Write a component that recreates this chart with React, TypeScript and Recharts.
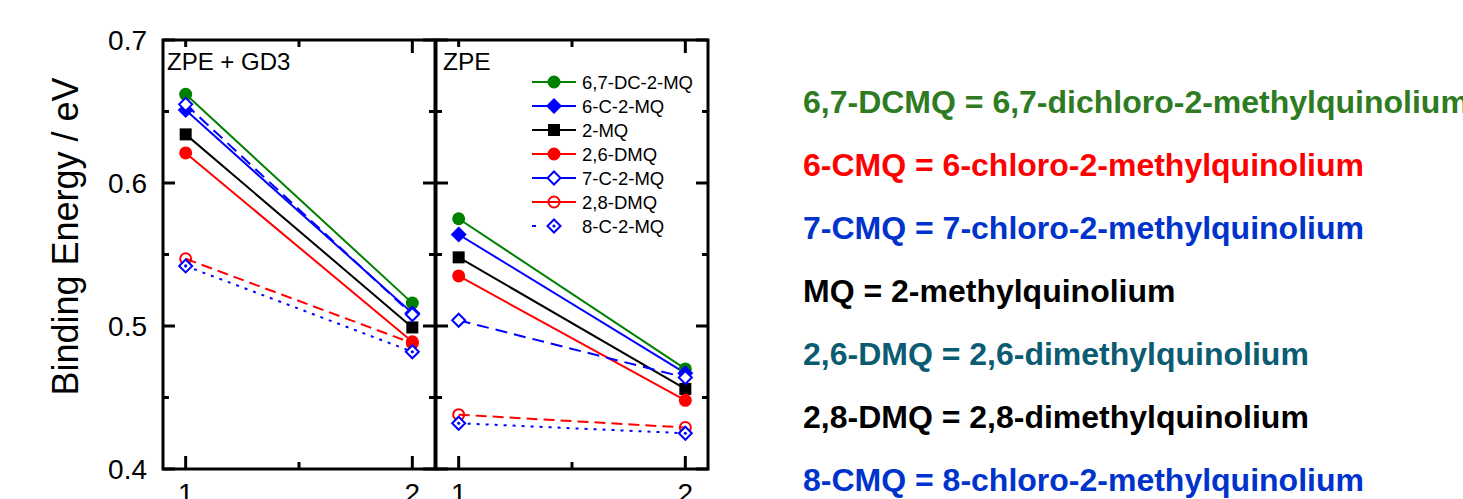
import { LineChart, Line, XAxis, YAxis, Legend, ReferenceLine, ReferenceArea } from 'recharts';

const FONT = '"Liberation Sans", Arial, Helvetica, sans-serif';

const X_VALUES = [1, 2];
const X_TICKS = [1, 1.5, 2];
const Y_TICKS = [0.4, 0.45, 0.5, 0.55, 0.6, 0.65, 0.7];
const X_MIN = 0.9;
const X_MAX = 2.1;
const Y_MIN = 0.4;
const Y_MAX = 0.7;

// ZPE + GD3 panel
const gd3DC67 = [0.662, 0.516];
const gd3C6 = [0.651, 0.509];
const gd3MQ = [0.634, 0.499];
const gd3DMQ26 = [0.621, 0.489];
const gd3C7 = [0.655, 0.508];
const gd3DMQ28 = [0.547, 0.488];
const gd3C8 = [0.542, 0.482];

// ZPE panel
const zpeDC67 = [0.575, 0.47];
const zpeC6 = [0.564, 0.467];
const zpeMQ = [0.548, 0.456];
const zpeDMQ26 = [0.535, 0.448];
const zpeC7 = [0.504, 0.464];
const zpeDMQ28 = [0.438, 0.429];
const zpeC8 = [0.432, 0.425];

const DEFINITIONS = [
  '6,7-DCMQ = 6,7-dichloro-2-methylquinolium',
  '6-CMQ = 6-chloro-2-methylquinolium',
  '7-CMQ = 7-chloro-2-methylquinolium',
  'MQ = 2-methylquinolium',
  '2,6-DMQ = 2,6-dimethylquinolium',
  '2,8-DMQ = 2,8-dimethylquinolium',
  '8-CMQ = 8-chloro-2-methylquinolium',
];
const DEFINITION_COLORS = ['#2e7b22', '#ff0000', '#0033cc', '#000000', '#0b5b72', '#000000', '#0033cc'];

type Shape = 'circle' | 'square' | 'diamond' | 'diamondDot';

const SERIES: { key: string; name: string; color: string; shape: Shape; filled: boolean; dash?: string; legendDash?: string }[] = [
  { key: 'dc67', name: '6,7-DC-2-MQ', color: '#008000', shape: 'circle', filled: true },
  { key: 'c6', name: '6-C-2-MQ', color: '#0000ff', shape: 'diamond', filled: true },
  { key: 'mq', name: '2-MQ', color: '#000000', shape: 'square', filled: true },
  { key: 'dmq26', name: '2,6-DMQ', color: '#ff0000', shape: 'circle', filled: true },
  { key: 'c7', name: '7-C-2-MQ', color: '#0000ff', shape: 'diamond', filled: false, dash: '12 7' },
  { key: 'dmq28', name: '2,8-DMQ', color: '#ff0000', shape: 'circle', filled: false, dash: '11 6' },
  { key: 'c8', name: '8-C-2-MQ', color: '#0000ff', shape: 'diamondDot', filled: false, dash: '3 6', legendDash: '4 100' },
];

const gd3Rows = X_VALUES.map((x, i) => ({
  x, dc67: gd3DC67[i], c6: gd3C6[i], mq: gd3MQ[i], dmq26: gd3DMQ26[i],
  c7: gd3C7[i], dmq28: gd3DMQ28[i], c8: gd3C8[i],
}));
const zpeRows = X_VALUES.map((x, i) => ({
  x, dc67: zpeDC67[i], c6: zpeC6[i], mq: zpeMQ[i], dmq26: zpeDMQ26[i],
  c7: zpeC7[i], dmq28: zpeDMQ28[i], c8: zpeC8[i],
}));

// plot box is 272 x 429 px in both panels; tick lengths are given in px
const PLOT_W = 272;
const PLOT_H = 429;
const X_PER_PX = (X_MAX - X_MIN) / PLOT_W;
const Y_PER_PX = (Y_MAX - Y_MIN) / PLOT_H;

function Marker({ cx, cy, color, shape, filled }: { cx?: number; cy?: number; color: string; shape: Shape; filled: boolean }) {
  if (cx == null || cy == null) return null;
  const diamond = (r: number) => `${cx},${cy - r} ${cx + r},${cy} ${cx},${cy + r} ${cx - r},${cy}`;
  if (shape === 'circle') {
    return filled
      ? <circle cx={cx} cy={cy} r={6.5} fill={color} />
      : <circle cx={cx} cy={cy} r={5.5} fill="none" stroke={color} strokeWidth={2} />;
  }
  if (shape === 'square') return <rect x={cx - 6} y={cy - 6} width={12} height={12} fill={color} />;
  if (shape === 'diamond') {
    return filled
      ? <polygon points={diamond(8)} fill={color} />
      : <polygon points={diamond(6.5)} fill="#fff" stroke={color} strokeWidth={2} />;
  }
  return (
    <g>
      <polygon points={diamond(6.5)} fill="#fff" stroke={color} strokeWidth={2} />
      <circle cx={cx} cy={cy} r={1.6} fill={color} />
    </g>
  );
}

const isMajorY = (v: number) => Math.abs(v * 10 - Math.round(v * 10)) < 1e-6;

function YLabelTick({ x, y, payload, side }: any) {
  const v = payload.value as number;
  if (!isMajorY(v)) return <g />;
  return (
    <text x={side === 'left' ? x - 16 : x + 16} y={y} dy={10} textAnchor={side === 'left' ? 'end' : 'start'}
      fontSize={28} fontFamily={FONT} fill="#000">{v.toFixed(1)}</text>
  );
}

function XLabelTick({ x, y, payload }: any) {
  const v = payload.value as number;
  if (!Number.isInteger(v)) return <g />;
  return <text x={x} y={y + 34} textAnchor="middle" fontSize={28} fontFamily={FONT} fill="#000">{v}</text>;
}

function renderYLabel(props: any) {
  const vb = props?.viewBox ?? { x: 0, y: 40, width: 163, height: 429 };
  const cx = vb.x + 78;
  const cy = vb.y + vb.height / 2 - 18;
  return (
    <text x={cx} y={cy} transform={`rotate(-90 ${cx} ${cy})`} textAnchor="middle"
      fontSize={36} fontFamily={FONT} fill="#000">Binding Energy / eV</text>
  );
}

function LegendBox() {
  return (
    <svg width={180} height={172} style={{ display: 'block', overflow: 'visible' }}>
      {SERIES.map((s, i) => {
        const y = 12 + 24 * i;
        return (
          <g key={s.key}>
            <line x1={0} x2={44} y1={y} y2={y} stroke={s.color} strokeWidth={2} strokeDasharray={s.legendDash} />
            <Marker cx={22} cy={y} color={s.color} shape={s.shape} filled={s.filled} />
            <text x={50} y={y} dy={6.5} fontSize={18.5} fontFamily={FONT} fill="#000">{s.name}</text>
          </g>
        );
      })}
    </svg>
  );
}

// inward tick marks on all four sides of a panel frame
function frameTicks() {
  const common = { xAxisId: 'b', yAxisId: 'l', stroke: '#000', strokeWidth: 3, ifOverflow: 'visible' as const };
  const out: any[] = [];
  Y_TICKS.forEach((v) => {
    const len = (isMajorY(v) ? 12 : 6) * X_PER_PX;
    out.push(<ReferenceLine key={`yl${v}`} {...common} segment={[{ x: X_MIN, y: v }, { x: X_MIN + len, y: v }]} />);
    out.push(<ReferenceLine key={`yr${v}`} {...common} segment={[{ x: X_MAX, y: v }, { x: X_MAX - len, y: v }]} />);
  });
  X_TICKS.forEach((v) => {
    const bottomLen = (Number.isInteger(v) ? 13 : 7) * Y_PER_PX;
    const topLen = (v === 2 ? 13 : 7) * Y_PER_PX;
    out.push(<ReferenceLine key={`xb${v}`} {...common} segment={[{ x: v, y: Y_MIN }, { x: v, y: Y_MIN + bottomLen }]} />);
    out.push(<ReferenceLine key={`xt${v}`} {...common} segment={[{ x: v, y: Y_MAX }, { x: v, y: Y_MAX - topLen }]} />);
  });
  return out;
}

function Panel({ rows, width, margin, leftLabels, legend }: any) {
  return (
    <LineChart width={width} height={499} data={rows} margin={margin}>
      <XAxis xAxisId="b" type="number" dataKey="x" domain={[X_MIN, X_MAX]} ticks={X_TICKS} interval={0}
        orientation="bottom" height={30} tickSize={0} tickMargin={0} tickLine={false} axisLine={false}
        tick={(p: any) => <XLabelTick {...p} />} />
      <YAxis yAxisId="l" type="number" domain={[Y_MIN, Y_MAX]} ticks={Y_TICKS} interval={0}
        orientation="left" width={163} hide={!leftLabels} tickSize={0} tickMargin={0} tickLine={false}
        axisLine={false} tick={(p: any) => <YLabelTick {...p} side="left" />}
        label={leftLabels ? renderYLabel : undefined} />
      {!leftLabels && (
        <YAxis yAxisId="r" type="number" domain={[Y_MIN, Y_MAX]} ticks={Y_TICKS} interval={0}
          orientation="right" width={60} tickSize={0} tickMargin={0} tickLine={false}
          axisLine={false} tick={(p: any) => <YLabelTick {...p} side="right" />} />
      )}
      {legend && (
        <Legend layout="vertical" align="center" verticalAlign="middle"
          wrapperStyle={{ left: 102, top: 70, width: 180 }} content={() => <LegendBox />} />
      )}
      {SERIES.map((s) => (
        <Line key={s.key} xAxisId="b" yAxisId="l" type="linear" dataKey={s.key} name={s.name}
          stroke={s.color} strokeWidth={2} strokeDasharray={s.dash} isAnimationActive={false}
          dot={(p: any) => <Marker key={`${s.key}-${p.index}`} cx={p.cx} cy={p.cy} color={s.color} shape={s.shape} filled={s.filled} />}
          activeDot={false} legendType="none" />
      ))}
      <ReferenceArea xAxisId="b" yAxisId="l" x1={X_MIN} x2={X_MAX} y1={Y_MIN} y2={Y_MAX}
        fill="none" fillOpacity={0} stroke="#000" strokeWidth={3} strokeOpacity={1} ifOverflow="visible" />
      {frameTicks()}
    </LineChart>
  );
}

export default function App() {
  return (
    <div style={{ position: 'absolute', left: 0, top: 0, width: 1463, height: 499, background: '#fff', overflow: 'hidden' }}>
      <div style={{ position: 'absolute', left: 0, top: 0 }}>
        <Panel rows={gd3Rows} width={440} margin={{ top: 40, right: 5, bottom: 0, left: 0 }} leftLabels legend={false} />
      </div>
      <div style={{ position: 'absolute', left: 430, top: 0 }}>
        <Panel rows={zpeRows} width={338} margin={{ top: 40, right: 0, bottom: 0, left: 6 }} leftLabels={false} legend />
      </div>
      <svg width={1463} height={499} style={{ position: 'absolute', left: 0, top: 0, pointerEvents: 'none' }}>
        <text x={167} y={70} fontSize={24} fontFamily={FONT} fill="#000">ZPE + GD3</text>
        <text x={443} y={70} fontSize={24.5} fontFamily={FONT} fill="#000">ZPE</text>
        {DEFINITIONS.map((d, i) => (
          <text key={d} x={803} y={113 + 63 * i} fontSize={32} fontWeight="bold" fontFamily={FONT}
            fill={DEFINITION_COLORS[i]}>{d}</text>
        ))}
      </svg>
    </div>
  );
}
